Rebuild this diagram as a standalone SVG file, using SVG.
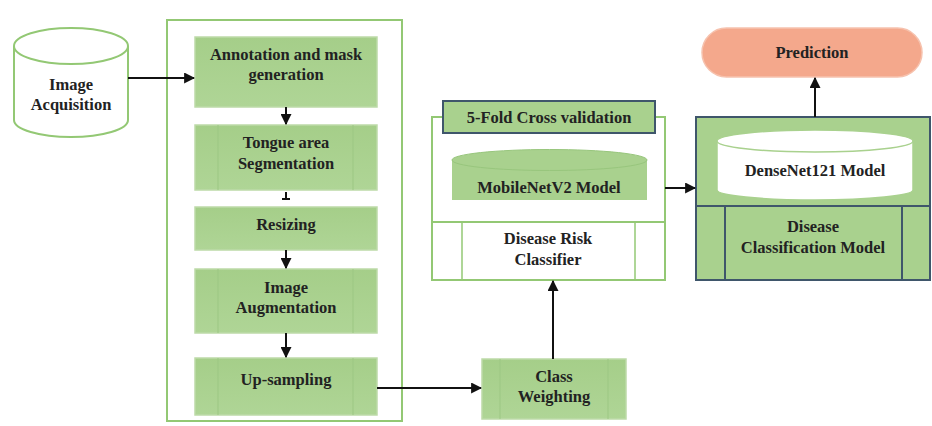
<svg xmlns="http://www.w3.org/2000/svg" width="932" height="426" viewBox="0 0 932 426">
<defs>
<marker id="ah" viewBox="0 0 10 10" refX="9" refY="5" markerWidth="5.5" markerHeight="5.5" orient="auto" markerUnits="strokeWidth">
<path d="M0,0 L10,5 L0,10 z" fill="#111"/>
</marker>
<linearGradient id="g" x1="0" y1="0" x2="0" y2="1">
<stop offset="0" stop-color="#a5ce89"/>
<stop offset="1" stop-color="#afd596"/>
</linearGradient>
<style>
text{font-family:"Liberation Serif","Times New Roman",serif;font-weight:bold;font-size:16.5px;fill:#222;text-anchor:middle}
.box{fill:url(#g);stroke:#bddaa8;stroke-width:1.5}
.inner{stroke:#9cc783;stroke-width:1}
.cont{fill:#fff;stroke:#93c874;stroke-width:2}
.conn{stroke:#111;stroke-width:2;fill:none}
.arr{marker-end:url(#ah)}
.slate{stroke:#3f566b;stroke-width:2}
</style>
</defs>
<rect width="932" height="426" fill="#fff"/>

<g id="image-acquisition">
<path d="M14,46 L14,120 A57,17 0 0 0 128,120 L128,46" fill="#fff" stroke="#93c874" stroke-width="2"/>
<ellipse cx="71" cy="46" rx="57" ry="18" fill="#fff" stroke="#93c874" stroke-width="2"/>
<text x="71" y="90">Image</text>
<text x="71" y="110">Acquisition</text>
</g>

<g id="preprocessing-container">
<rect class="cont" x="167" y="20" width="235" height="401"/>
</g>

<g id="annotation">
<rect class="box" x="195" y="37" width="182" height="70"/>
<text x="286" y="60">Annotation and mask</text>
<text x="286" y="80">generation</text>
</g>

<g id="segmentation">
<rect class="box" x="195" y="125" width="182" height="65"/>
<line class="inner" x1="218" y1="125" x2="218" y2="190"/>
<line class="inner" x1="353" y1="125" x2="353" y2="190"/>
<text x="286" y="148">Tongue area</text>
<text x="286" y="169">Segmentation</text>
</g>

<g id="resizing">
<rect class="box" x="195" y="207" width="182" height="43"/>
<text x="286" y="230">Resizing</text>
</g>

<g id="augmentation">
<rect class="box" x="195" y="269" width="182" height="64"/>
<line class="inner" x1="218" y1="269" x2="218" y2="333"/>
<line class="inner" x1="353" y1="269" x2="353" y2="333"/>
<text x="286" y="293">Image</text>
<text x="286" y="313">Augmentation</text>
</g>

<g id="upsampling">
<rect class="box" x="195" y="358" width="182" height="57"/>
<line class="inner" x1="218" y1="358" x2="218" y2="415"/>
<line class="inner" x1="353" y1="358" x2="353" y2="415"/>
<text x="286" y="385">Up-sampling</text>
</g>

<g id="class-weighting">
<rect class="box" x="482" y="359" width="144" height="60"/>
<line class="inner" x1="500" y1="359" x2="500" y2="419"/>
<line class="inner" x1="608" y1="359" x2="608" y2="419"/>
<text x="554" y="382">Class</text>
<text x="554" y="402">Weighting</text>
</g>

<g id="disease-risk-classifier">
<rect class="cont" x="432" y="117" width="233" height="163"/>
<line x1="432" y1="222" x2="665" y2="222" stroke="#93c874" stroke-width="2"/>
<line x1="462" y1="222" x2="462" y2="280" stroke="#93c874" stroke-width="1.5"/>
<line x1="635" y1="222" x2="635" y2="280" stroke="#93c874" stroke-width="1.5"/>
<text x="548" y="244">Disease Risk</text>
<text x="548" y="265">Classifier</text>
</g>

<g id="cross-validation">
<rect x="443" y="101" width="212" height="32" fill="#a9d18e" class="slate"/>
<text x="549" y="123">5-Fold Cross validation</text>
</g>

<g id="mobilenet">
<path d="M452,160 L452,200 L647,200 L647,160 Z" fill="#a9d18e"/>
<ellipse cx="549.5" cy="160" rx="97.5" ry="10.5" fill="#a9d18e" stroke="#98c67d" stroke-width="1"/>
<text x="549" y="193">MobileNetV2 Model</text>
</g>

<g id="disease-classification-model">
<rect x="696" y="117" width="234" height="163" fill="#a9d18e" class="slate"/>
<line x1="696" y1="206" x2="930" y2="206" class="slate"/>
<line x1="725" y1="206" x2="725" y2="280" class="slate" stroke-width="1.5"/>
<line x1="902" y1="206" x2="902" y2="280" class="slate" stroke-width="1.5"/>
<text x="813" y="232">Disease</text>
<text x="813" y="253">Classification Model</text>
</g>

<g id="densenet">
<path d="M717,141 L717,190 A98,10 0 0 0 913,190 L913,141" fill="#fff" stroke="#a9d18e" stroke-width="1.5"/>
<ellipse cx="815" cy="141" rx="98" ry="11" fill="#fff" stroke="#a9d18e" stroke-width="1.5"/>
<text x="815" y="176">DenseNet121 Model</text>
</g>

<g id="prediction">
<rect x="702" y="28" width="220" height="49" rx="24.5" fill="#f4a88c" stroke="#f6c2ae" stroke-width="1.5"/>
<text x="812" y="58">Prediction</text>
</g>

<g id="connectors">
<line class="conn arr" x1="128" y1="78" x2="194" y2="78"/>
<line class="conn arr" x1="286" y1="107" x2="286" y2="124"/>
<line class="conn" x1="286" y1="192" x2="286" y2="199"/>
<line class="conn" x1="282" y1="199" x2="290" y2="199"/>
<line class="conn arr" x1="286" y1="250" x2="286" y2="268"/>
<line class="conn arr" x1="286" y1="333" x2="286" y2="357"/>
<line class="conn arr" x1="377" y1="388" x2="481" y2="388"/>
<line class="conn arr" x1="553" y1="359" x2="553" y2="281"/>
<line class="conn arr" x1="665" y1="188" x2="695" y2="188"/>
<line class="conn arr" x1="815" y1="117" x2="815" y2="78"/>
</g>
</svg>
